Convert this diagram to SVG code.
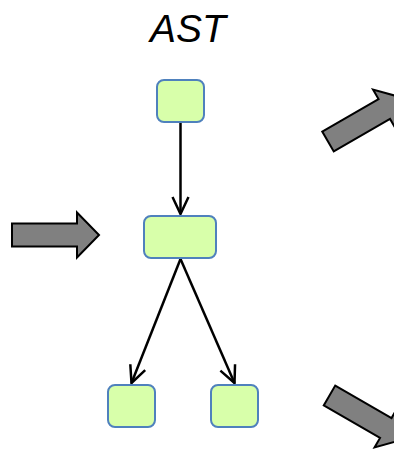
<svg xmlns="http://www.w3.org/2000/svg" width="394" height="451" viewBox="0 0 394 451">
<style>
.node{fill:#d8ffaa;stroke:#4f81bd;stroke-width:2}
.edge{fill:none;stroke:#000;stroke-width:2.5}
.big{fill:#808080;stroke:#000;stroke-width:2;stroke-linejoin:miter}
.title{font-family:"Liberation Sans",Arial,sans-serif;font-style:italic;font-size:39px;fill:#000}
</style>
<defs>
<marker id="open" viewBox="0 0 20 20" refX="18" refY="10" markerWidth="20" markerHeight="20" markerUnits="userSpaceOnUse" orient="auto">
<path d="M1,2 L18,10 L1,18" fill="none" stroke="#000" stroke-width="2.5"/>
</marker>
<polygon id="blk" points="0,-11.5 65,-11.5 65,-22.5 87,0 65,22.5 65,11.5 0,11.5"/>
</defs>
<text class="title" x="188" y="42" text-anchor="middle">AST</text>
<g id="connectors">
<line class="edge" x1="180.5" y1="123" x2="180.5" y2="214" marker-end="url(#open)"/>
<line class="edge" x1="180.5" y1="259" x2="131.5" y2="383" marker-end="url(#open)"/>
<line class="edge" x1="180.5" y1="259" x2="234.5" y2="383" marker-end="url(#open)"/>
</g>
<g id="n-top"><rect class="node" x="157" y="80" width="47" height="42" rx="7"/></g>
<g id="n-mid"><rect class="node" x="144" y="216" width="72" height="42" rx="7"/></g>
<g id="n-left"><rect class="node" x="108" y="385" width="47" height="42" rx="7"/></g>
<g id="n-right"><rect class="node" x="211" y="385" width="47" height="42" rx="7"/></g>
<g id="arrow-in"><use href="#blk" class="big" transform="translate(12,235)"/></g>
<g id="arrow-up"><use href="#blk" class="big" transform="translate(328,141.5) rotate(-30)"/></g>
<g id="arrow-down"><use href="#blk" class="big" transform="translate(329.5,395.5) rotate(30)"/></g>
</svg>
